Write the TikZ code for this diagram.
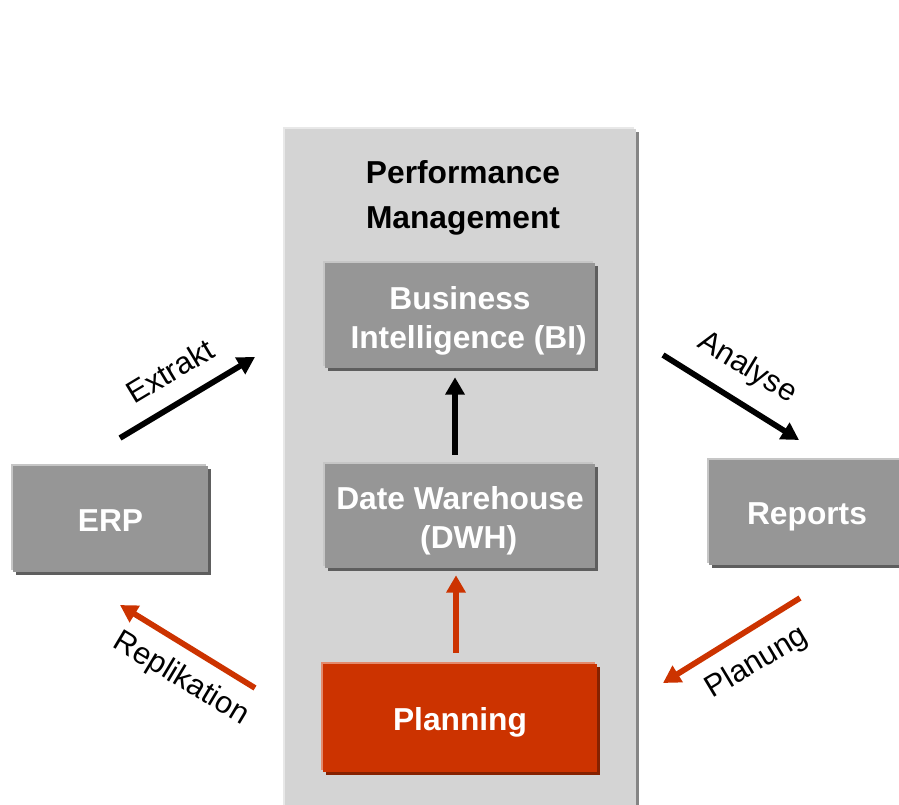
\documentclass[tikz,border=0pt]{standalone}
\usepackage{fontspec}
\setmainfont{Liberation Sans}
\usetikzlibrary{arrows.meta,shadows}

\definecolor{boxgray}{HTML}{969696}
\definecolor{boxlight}{HTML}{C6C6C6}
\definecolor{boxdark}{HTML}{5E5E5E}
\definecolor{panelfill}{HTML}{D4D4D4}
\definecolor{panellight}{HTML}{E8E8E8}
\definecolor{paneldark}{HTML}{858585}
\definecolor{planred}{HTML}{CC3300}
\definecolor{planlight}{HTML}{E38A6C}
\definecolor{plandark}{HTML}{862100}

% invisible strut that gives the first line of a box a fixed height
\newcommand{\topstrut}{\rule{0pt}{24.9pt}}

\begin{document}
% one unit = one pixel of a 899 x 804 canvas, y pointing down
\begin{tikzpicture}[x=0.75pt,y=-0.75pt,
  boxfont/.style={font=\fontsize{23.8}{29.25}\selectfont\bfseries},
  lblfont/.style={font=\fontsize{23}{28}\selectfont},
  raised/.style 2 args={
    general shadow={fill=#2, shadow xshift=2.6pt, shadow yshift=-2.6pt},
    general shadow={fill=#1, shadow xshift=-1.6pt, shadow yshift=1.6pt}},
  graybox/.style={rectangle, inner sep=0pt, fill=boxgray, text=white,
    align=center, boxfont, raised={boxlight}{boxdark}},
  redbox/.style={rectangle, inner sep=0pt, fill=planred, text=white,
    align=center, boxfont, raised={planlight}{plandark}},
  oneline/.style={text height=23.5pt, text depth=5pt},
  panelbox/.style={rectangle, inner sep=0pt, fill=panelfill,
    raised={panellight}{paneldark}},
  arr/.style={line width=4.3pt, -{Triangle[length=13pt,width=14pt]}},
  redarr/.style={arr, draw=planred, -{Triangle[length=13pt,width=14pt,fill=planred]}},
  lbl/.style={lblfont, inner sep=0pt}]

\useasboundingbox (0,0) rectangle (899,804);

% central panel
\node[panelbox, minimum width=351*0.75pt, minimum height=690*0.75pt]
  (panel) at (460.5,474) {};
\node[align=center, inner sep=0pt,
  font=\fontsize{23.8}{33.75}\selectfont\bfseries] (title) at (463,198)
  {Performance\\Management};

% boxes
\node[graybox, minimum width=270*0.75pt, minimum height=105*0.75pt]
  (bi) at (460,315.5) {\topstrut Business\\\hspace*{13pt}Intelligence (BI)};
\node[graybox, minimum width=270*0.75pt, minimum height=104*0.75pt]
  (dwh) at (460,516) {\topstrut Date Warehouse\\\hspace*{13pt}(DWH)};
\node[redbox, oneline, minimum width=274*0.75pt, minimum height=108*0.75pt]
  (plan) at (460,718) {Planning};
\node[graybox, oneline, minimum width=195*0.75pt, minimum height=106*0.75pt]
  (erp) at (110.5,519) {ERP};
\node[graybox, oneline, minimum width=196*0.75pt, minimum height=105*0.75pt]
  (reports) at (807,512.5) {Reports};

% vertical flows inside the panel
\draw[arr, shorten <=9*0.75pt, shorten >=9*0.75pt]
  ([xshift=-3.75pt]dwh.north) -- ([xshift=-3.75pt]bi.south);
\draw[redarr, shorten <=11*0.75pt, shorten >=7*0.75pt]
  ([xshift=-3pt]plan.north) -- ([xshift=-3pt]dwh.south);

% diagonal flows
\coordinate (ex0) at (120,438);  \coordinate (ex1) at (255,357);
\coordinate (an0) at (663,355);  \coordinate (an1) at (799,440);
\coordinate (pl0) at (800,598);  \coordinate (pl1) at (663,683);
\coordinate (re0) at (255,688);  \coordinate (re1) at (120,605);

\draw[arr] (ex0) -- (ex1);
\draw[arr] (an0) -- (an1);
\draw[redarr] (pl0) -- (pl1);
\draw[redarr] (re0) -- (re1);

\node[lbl, rotate=31] (extrakt) at (170,371) {Extrakt};
\node[lbl, rotate=-31] (analyse) at (747,368) {Analyse};
\node[lbl, rotate=-31] (replik) at (181,679) {Replikation};
\node[lbl, rotate=31] (planung) at (757,663) {Planung};
\end{tikzpicture}
\end{document}
